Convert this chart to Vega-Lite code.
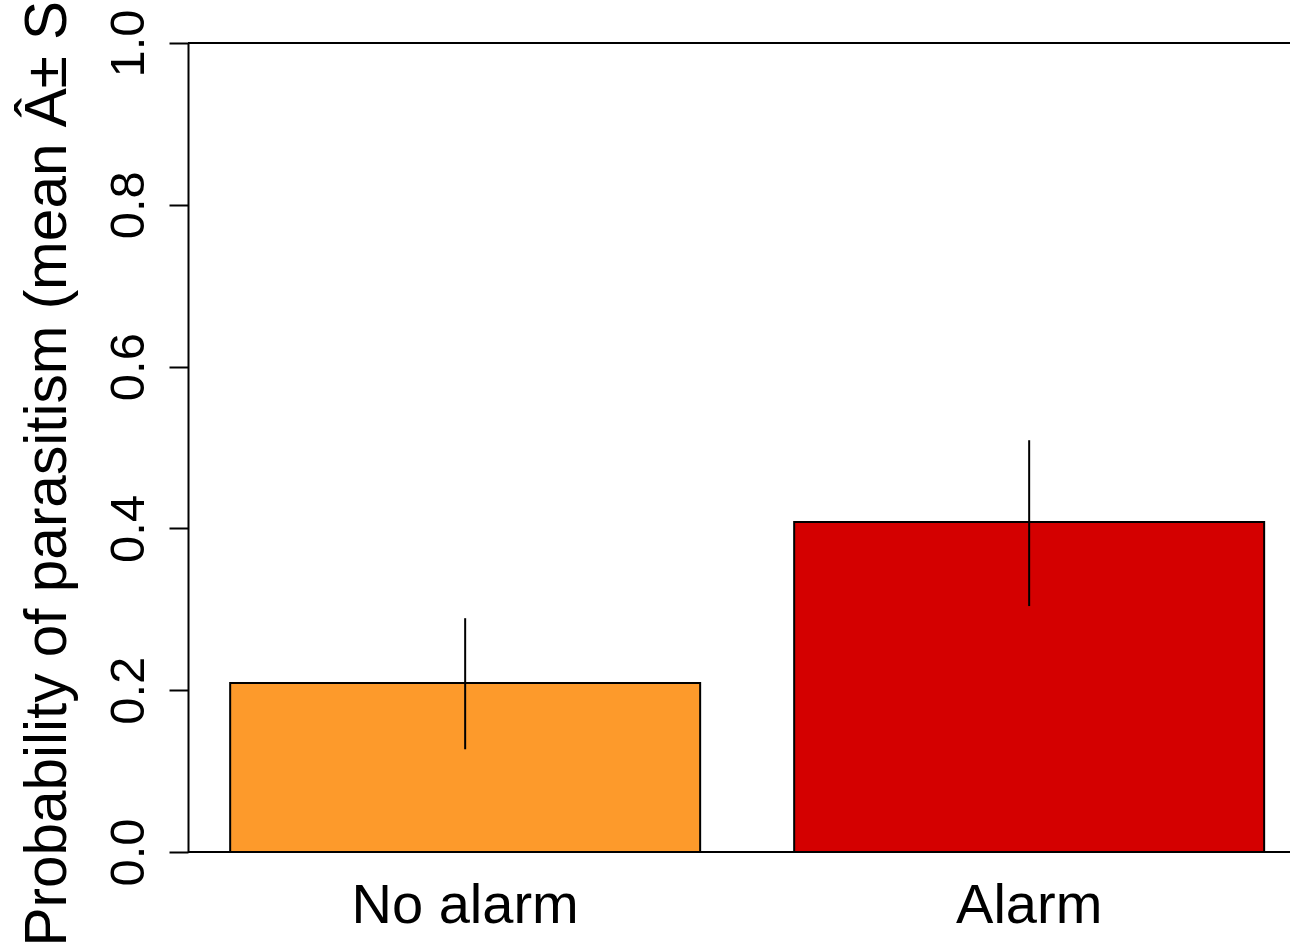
{
  "$schema": "https://vega.github.io/schema/vega-lite/v6.json",
  "autosize": {"type": "none"},
  "width": 1102,
  "height": 809,
  "padding": {"left": 188, "top": 43, "right": 0, "bottom": 94},
  "background": "white",
  "config": {
    "view": {"stroke": null},
    "font": "Liberation Sans"
  },
  "data": {
    "values": [
      {"group": "No alarm", "mean": 0.209, "lo": 0.127, "hi": 0.289},
      {"group": "Alarm", "mean": 0.408, "lo": 0.304, "hi": 0.509}
    ]
  },
  "layer": [
    {
      "mark": {"type": "bar", "stroke": "black", "strokeWidth": 2},
      "encoding": {
        "x": {
          "field": "group",
          "type": "nominal",
          "sort": ["No alarm", "Alarm"],
          "scale": {"paddingInner": 0.1667, "paddingOuter": 0.0603, "align": 0.62},
          "axis": {
            "title": null,
            "domain": false,
            "ticks": false,
            "tickSize": 0,
            "labelAngle": 0,
            "labelFontSize": 56,
            "labelLimit": 0,
            "labelColor": "black",
            "labelBaseline": "alphabetic",
            "labelPadding": 70,
            "labelFont": "Liberation Sans"
          }
        },
        "y": {
          "field": "mean",
          "type": "quantitative",
          "scale": {"domain": [0, 1], "nice": false, "zero": true},
          "axis": {
            "title": "Probability of parasitism (mean Â± SE)",
            "titleFontSize": 58.5,
            "titleFontWeight": "normal",
            "titleColor": "black",
            "titleFont": "Liberation Sans",
            "titleAngle": 270,
            "titleAlign": "center",
            "titleBaseline": "alphabetic",
            "titleLimit": 0,
            "titleX": -123,
            "titleY": 401,
            "values": [0, 0.2, 0.4, 0.6, 0.8, 1.0],
            "format": ".1f",
            "grid": false,
            "domain": true,
            "domainColor": "black",
            "domainWidth": 2,
            "tickColor": "black",
            "tickWidth": 2,
            "tickSize": 19,
            "labelAngle": 270,
            "labelAlign": "center",
            "labelBaseline": "alphabetic",
            "labelPadding": 26,
            "labelFontSize": 49,
            "labelColor": "black",
            "labelFont": "Liberation Sans"
          }
        },
        "fill": {
          "field": "group",
          "type": "nominal",
          "scale": {"domain": ["No alarm", "Alarm"], "range": ["#FD9A2B", "#D40000"]},
          "legend": null
        }
      }
    },
    {
      "mark": {"type": "rule", "color": "black", "strokeWidth": 2},
      "encoding": {
        "x": {"field": "group", "type": "nominal", "sort": ["No alarm", "Alarm"]},
        "y": {"field": "lo", "type": "quantitative"},
        "y2": {"field": "hi"}
      }
    },
    {
      "mark": {"type": "rule", "color": "black", "strokeWidth": 2},
      "encoding": {"y": {"datum": 0, "type": "quantitative"}}
    },
    {
      "mark": {"type": "rule", "color": "black", "strokeWidth": 2},
      "encoding": {"y": {"datum": 1, "type": "quantitative"}}
    }
  ]
}
